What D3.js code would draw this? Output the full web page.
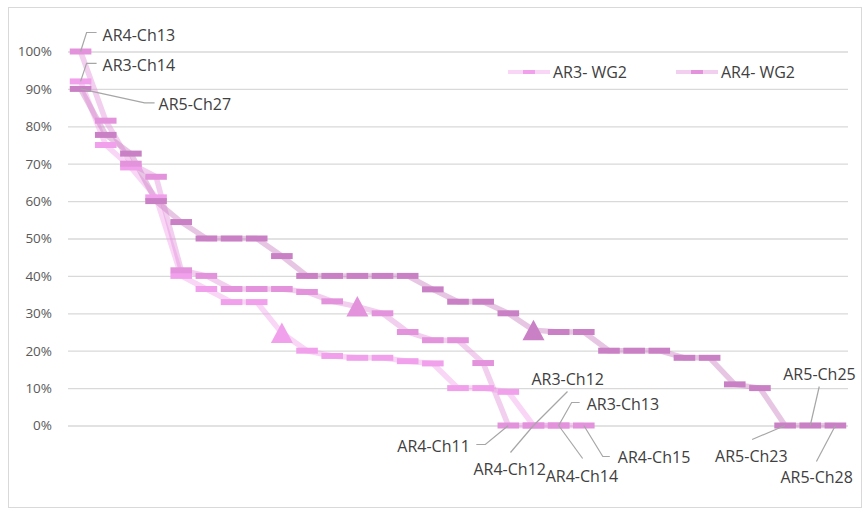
<!DOCTYPE html>
<html>
<head>
<meta charset="utf-8">
<script src="https://cdn.jsdelivr.net/npm/d3@7"></script>
<style>
  html, body { margin: 0; padding: 0; background: #ffffff; }
  svg { display: block; }
  text { font-family: "Open Sans", "Liberation Sans", sans-serif; fill: #404040; }
</style>
</head>
<body>
<svg id="chart" width="865" height="518"></svg>
<script>
// ---- data ----
const ranks = d3.range(31);                 // x positions (chapter rank)
const yTicks = [0, 0.1, 0.2, 0.3, 0.4, 0.5, 0.6, 0.7, 0.8, 0.9, 1.0];

const ar3Values = [0.92, 0.75, 0.69, 0.61, 0.40, 0.365, 0.33, 0.33, 0.247, 0.20,
                   0.186, 0.181, 0.181, 0.172, 0.166, 0.10, 0.10, 0.09, 0, 0];
const ar4Values = [1.00, 0.815, 0.70, 0.665, 0.415, 0.40, 0.365, 0.365, 0.365, 0.357,
                   0.332, 0.318, 0.30, 0.25, 0.228, 0.228, 0.167, 0, 0, 0, 0];
const ar5Values = [0.90, 0.777, 0.727, 0.60, 0.544, 0.50, 0.50, 0.50, 0.453, 0.40,
                   0.40, 0.40, 0.40, 0.40, 0.364, 0.331, 0.331, 0.30, 0.255, 0.25,
                   0.25, 0.20, 0.20, 0.20, 0.181, 0.181, 0.11, 0.10, 0, 0, 0];

const seriesNames = ["AR3- WG2", "AR4- WG2", "AR5- WG2"];
const triangleIndex = [8, 11, 18];          // point drawn as a triangle in each series
const legendNames = ["AR3- WG2", "AR4- WG2"];

// point labels: [series, index, text]
const pointLabels = [
  [1, 0, "AR4-Ch13"], [0, 0, "AR3-Ch14"], [2, 0, "AR5-Ch27"],
  [0, 18, "AR3-Ch12"], [0, 19, "AR3-Ch13"],
  [1, 17, "AR4-Ch11"], [1, 18, "AR4-Ch12"], [1, 19, "AR4-Ch14"], [1, 20, "AR4-Ch15"],
  [2, 28, "AR5-Ch23"], [2, 29, "AR5-Ch25"], [2, 30, "AR5-Ch28"]
];

// ---- layout / style ----
const colors = ["#f1a1eb", "#e393db", "#c980c4"];
// label layout offsets relative to point: text x,y (baseline) and leader polyline offsets
const labelLayout = {
  "AR4-Ch13": { tx: 22, ty: -11, leader: [[16, -19], [6, -19], [0, 0]] },
  "AR3-Ch14": { tx: 22, ty: -10, leader: [[16, -18], [6, -18], [0, 0]] },
  "AR5-Ch27": { tx: 78, ty: 21, leader: [[74, 14], [64, 14], [0, 0]] },
  "AR3-Ch12": { tx: -2, ty: -41, leader: [[34, -34], [0, 0]] },
  "AR3-Ch13": { tx: 28, ty: -16, leader: [[21, -23], [13, -23], [0, 0]] },
  "AR4-Ch11": { tx: -111, ty: 26, leader: [[-32, 19], [-23, 19], [0, 0]] },
  "AR4-Ch12": { tx: -60, ty: 49, leader: [[-23, 27], [0, 0]] },
  "AR4-Ch14": { tx: -13, ty: 56, leader: [[24, 33], [0, 0]] },
  "AR4-Ch15": { tx: 34, ty: 37, leader: [[26, 31], [19, 31], [0, 0]] },
  "AR5-Ch23": { tx: -70, ty: 36, leader: [[-33, 14], [0, 0]] },
  "AR5-Ch25": { tx: -27, ty: -46, leader: [[9, -39], [0, 0]] },
  "AR5-Ch28": { tx: -55, ty: 57, leader: [[-19, 36], [0, 0]] }
};

const svg = d3.select("#chart");
const plot = { left: 68, right: 848, top: 51.5, bottom: 425.5 };

// chart frame
svg.append("rect")
  .attr("x", 8.5).attr("y", 7.5).attr("width", 853).attr("height", 500)
  .attr("fill", "#ffffff").attr("stroke", "#d9d9d9").attr("stroke-width", 1);

const x = d3.scaleBand().domain(ranks).range([plot.left, plot.right]).padding(0);
const cx = i => x(i) + x.bandwidth() / 2;
const y = d3.scaleLinear().domain([0, 1]).range([plot.bottom, plot.top]);

// gridlines + y labels
const yAxis = d3.axisLeft(y).tickValues(yTicks).tickFormat(d3.format(".0%"))
  .tickSize(-(plot.right - plot.left)).tickPadding(16);
const gY = svg.append("g").attr("transform", `translate(${plot.left},0)`).call(yAxis);
gY.select(".domain").remove();
gY.selectAll(".tick line").attr("stroke", "#d9d9d9").attr("stroke-width", 1.3);
gY.selectAll(".tick text").style("font-size", "13.5px").style("fill", "#595959")
  .attr("font-family", "Open Sans, sans-serif");

const allSeries = [ar3Values, ar4Values, ar5Values];

// connecting lines (translucent, thick)
const line = d3.line().x((d, i) => cx(i)).y(d => y(d));
allSeries.forEach((vals, s) => {
  svg.append("path").datum(vals)
    .attr("d", line)
    .attr("fill", "none")
    .attr("stroke", colors[s])
    .attr("stroke-opacity", 0.45)
    .attr("stroke-width", 5.5)
    .attr("stroke-linejoin", "round");
});

// markers
allSeries.forEach((vals, s) => {
  const g = svg.append("g");
  vals.forEach((v, i) => {
    if (i === triangleIndex[s]) {
      const px = cx(i), py = y(v);
      g.append("path")
        .attr("d", `M${px},${py - 10.5}L${px + 11},${py + 10}L${px - 11},${py + 10}Z`)
        .attr("fill", colors[s]);
    } else {
      g.append("rect")
        .attr("x", cx(i) - 10.8).attr("y", y(v) - 3)
        .attr("width", 21.6).attr("height", 6)
        .attr("fill", colors[s]);
    }
  });
});

// point labels with leader lines
pointLabels.forEach(([s, i, txt]) => {
  const px = cx(i), py = y(allSeries[s][i]);
  const L = labelLayout[txt];
  svg.append("polyline")
    .attr("points", L.leader.map(([dx, dy]) => `${px + dx},${py + dy}`).join(" "))
    .attr("fill", "none").attr("stroke", "#a6a6a6").attr("stroke-width", 1.2);
  svg.append("text")
    .attr("x", px + L.tx).attr("y", py + L.ty)
    .style("font-size", "16px")
    .text(txt);
});

// legend
const legendX = [508, 676];
legendNames.forEach((name, k) => {
  const lx = legendX[k], ly = 72;
  svg.append("line")
    .attr("x1", lx).attr("x2", lx + 42).attr("y1", ly).attr("y2", ly)
    .attr("stroke", colors[k]).attr("stroke-opacity", 0.45).attr("stroke-width", 4);
  svg.append("rect")
    .attr("x", lx + 15).attr("y", ly - 2).attr("width", 12).attr("height", 4)
    .attr("fill", colors[k]);
  svg.append("text")
    .attr("x", lx + 45).attr("y", ly + 6)
    .style("font-size", "16px")
    .text(name);
});
</script>
</body>
</html>
